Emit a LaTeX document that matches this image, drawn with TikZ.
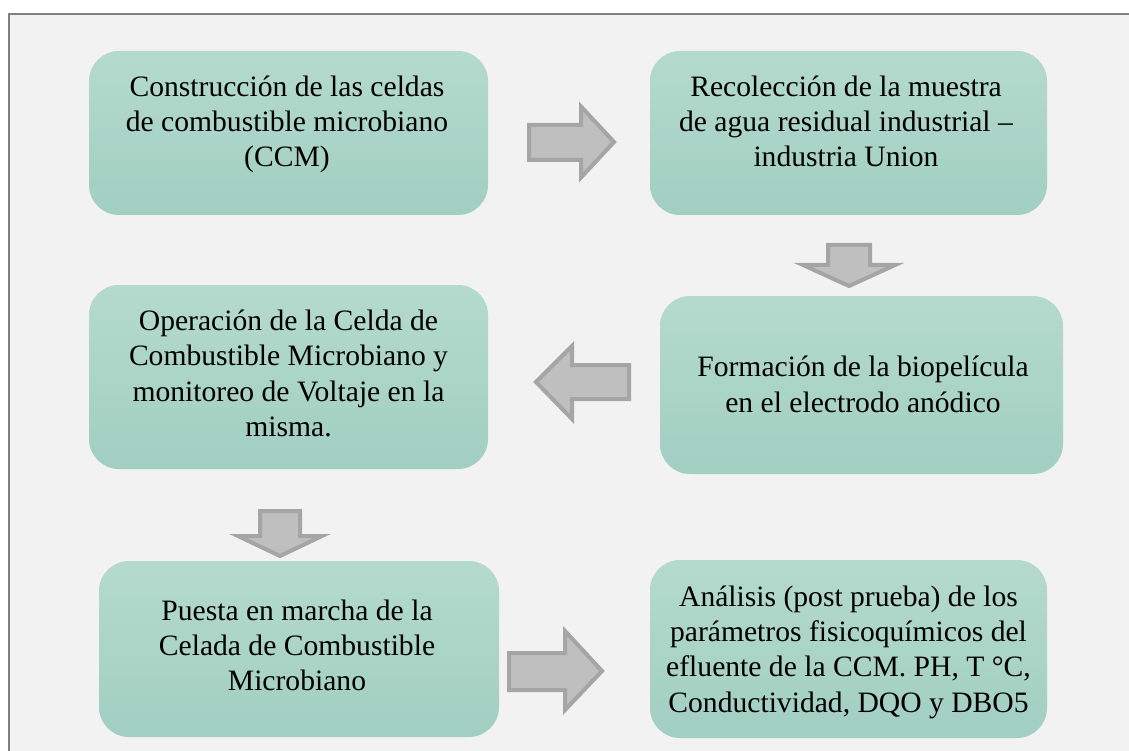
\documentclass[tikz,border=0pt]{standalone}
\usepackage{fontspec}
\setmainfont{Liberation Serif}
\definecolor{framefill}{HTML}{F2F2F2}
\definecolor{frameline}{HTML}{808080}
\definecolor{boxtop}{HTML}{B4DACD}
\definecolor{boxbot}{HTML}{A1CFC1}
\definecolor{arrowfill}{HTML}{BFBFBF}
\definecolor{arrowline}{HTML}{A5A5A5}
\tikzset{
  frame/.style={fill=framefill, draw=frameline, line width=1.8pt},
  box/.style={rounded corners=30pt, top color=boxtop, bottom color=boxbot, draw=none, inner sep=0pt},
  txt/.style={align=center, font=\fontsize{29.6}{35.3}\selectfont, inner sep=0pt, text=black},
  blockarrow/.style={fill=arrowfill, draw=arrowline, line width=4pt, line join=miter}
}
\begin{document}
\begin{tikzpicture}[x=1pt,y=-1pt]
\useasboundingbox (0,0) rectangle (1129,751);
\fill[white] (0,0) rectangle (1129,751);
\draw[frame] (9,14) rectangle (1150,780);

% boxes
\node[box, minimum width=399pt, minimum height=164pt] (b1) at (288.5,133) {};
\node[box, minimum width=397pt, minimum height=164pt] (b2) at (848.5,133) {};
\node[box, minimum width=403pt, minimum height=178pt] (b3) at (861.5,385) {};
\node[box, minimum width=399pt, minimum height=184pt] (b4) at (288.5,377) {};
\node[box, minimum width=400pt, minimum height=176pt] (b5) at (299,649) {};
\node[box, minimum width=397pt, minimum height=178pt] (b6) at (848.5,649) {};

% texts
\node[txt] (t1) at (287,124.5) {\strut Construcción de las celdas\\de combustible microbiano\\(CCM)\strut};
\node[txt] (t2) at (846,124.5) {\strut Recolección de la muestra\\de agua residual industrial –\\industria Union\strut};
\node[txt] (t3) at (863,387.5) {\strut Formación de la biopelícula\\en el electrodo anódico\strut};
\node[txt] (t4) at (288.5,376.5) {\strut Operación de la Celda de\\Combustible Microbiano y\\monitoreo de Voltaje en la\\misma.\strut};
\node[txt] (t5) at (297,648.5) {\strut Puesta en marcha de la\\Celada de Combustible\\Microbiano\strut};
\node[txt] (t6) at (848.5,652) {\strut Análisis (post prueba) de los\\parámetros fisicoquímicos del\\efluente de la CCM. PH, T °C,\\Conductividad, DQO y DBO5\strut};

% block arrows
\draw[blockarrow] (529,125) -- (581,125) -- (581,106.5) -- (614,142) -- (581,177.5) -- (581,160) -- (529,160) -- cycle;
\draw[blockarrow] (828,245) -- (870,245) -- (870,265) -- (895,265) -- (849,286) -- (803,265) -- (828,265) -- cycle;
\draw[blockarrow] (629,365) -- (572,365) -- (572,346) -- (536,382) -- (572,419) -- (572,399) -- (629,399) -- cycle;
\draw[blockarrow] (260,511) -- (300,511) -- (300,536) -- (322,536) -- (280,556) -- (238,536) -- (260,536) -- cycle;
\draw[blockarrow] (509,653) -- (565,653) -- (565,631) -- (602,671) -- (565,710) -- (565,690) -- (509,690) -- cycle;
\end{tikzpicture}
\end{document}
